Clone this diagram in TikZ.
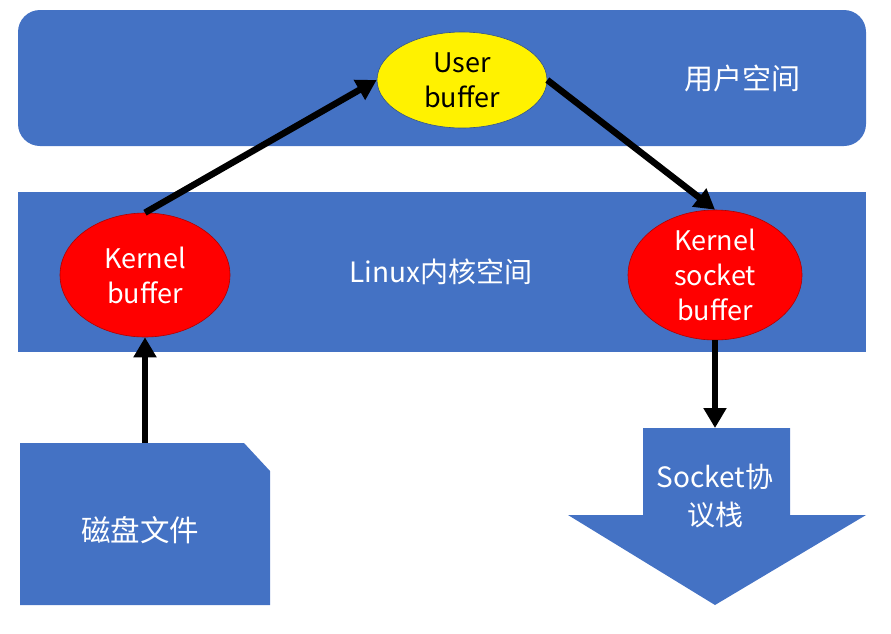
\documentclass[tikz,border=0pt]{standalone}
\usepackage{fontspec}
\setmainfont{Noto Sans CJK SC}
\usetikzlibrary{shapes.geometric,arrows.meta}
\definecolor{boxblue}{HTML}{4472C4}
\definecolor{edgeblue}{HTML}{2F528F}
\tikzset{
  layer/.style={fill=boxblue,draw=none},
  buf/.style={ellipse,inner sep=0pt,align=center,font=\fontsize{27}{35}\selectfont},
  lbl/.style={text=white,align=center,font=\fontsize{28}{38}\selectfont},
  flow/.style={line width=6.5pt,-{Triangle[length=20pt,width=22pt]},black},
}
\begin{document}
\begin{tikzpicture}[x=1pt,y=-1pt]
\useasboundingbox (0,0) rectangle (891,633);
% layers
\fill[layer,rounded corners=22pt] (18,10) rectangle (866,146);
\fill[layer] (18,192) rectangle (866,352);
\node[lbl,font=\fontsize{29}{38}\selectfont] (user) at (742,78) {用户空间};
\node[lbl] (kernel) at (441,272) {Linux内核空间};
% buffers
\node[buf,fill=yellow,draw=edgeblue,line width=0.6pt,minimum width=170pt,minimum height=96pt,text=black] (ub) at (462,80) {User\\buffer};
\node[buf,fill=red,draw=red!70!black,line width=0.6pt,minimum width=170pt,minimum height=124pt,text=white] (kb) at (145,275) {Kernel\\buffer};
\node[buf,fill=red,draw=red!70!black,line width=0.6pt,minimum width=174pt,minimum height=130pt,text=white] (ksb) at (715,275) {Kernel\\socket\\buffer};
% disk file
\fill[layer] (20,605) -- (20,443) -- (244,443) -- (270,471) -- (270,605) -- cycle;
\node[lbl,font=\fontsize{29.5}{38}\selectfont] (disk) at (140,530) {磁盘文件};
\coordinate (disktop) at (145,443);
% socket arrow
\fill[layer] (643,428) -- (790,428) -- (790,515) -- (866,515) -- (715,605) -- (568,515) -- (643,515) -- cycle;
\node[lbl,font=\fontsize{28}{38}\selectfont] (sock) at (715,496) {Socket协\\议栈};
\coordinate (socktop) at (715,428);
% flows
\draw[flow] (kb.north) -- (ub.west);
\draw[flow] (ub.east) -- (ksb.north);
\draw[flow] (disktop) -- (kb.south);
\draw[flow] (ksb.south) -- (socktop);
\end{tikzpicture}
\end{document}
